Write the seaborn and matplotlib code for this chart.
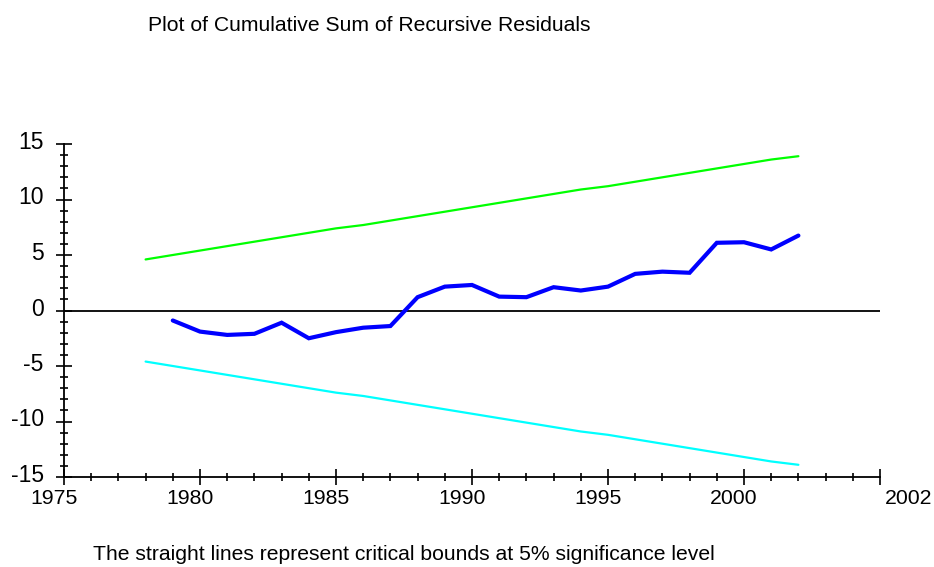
import matplotlib
matplotlib.use("Agg")
import matplotlib.pyplot as plt
import pandas as pd
import seaborn as sns
from matplotlib.ticker import MultipleLocator, FixedLocator, FixedFormatter
from matplotlib.transforms import ScaledTranslation

# Critical bounds (5% significance), one value per year
bound_years = list(range(1978, 2003))
upper_bound = [4.6, 5.0, 5.4, 5.8, 6.2, 6.6, 7.0, 7.4, 7.7, 8.1, 8.5, 8.9, 9.3,
               9.7, 10.1, 10.5, 10.9, 11.2, 11.6, 12.0, 12.4, 12.8, 13.2, 13.6, 13.9]
lower_bound = [-4.6, -5.0, -5.4, -5.8, -6.2, -6.6, -7.0, -7.4, -7.7, -8.1, -8.5, -8.9, -9.3,
               -9.7, -10.1, -10.5, -10.9, -11.2, -11.6, -12.0, -12.4, -12.8, -13.2, -13.6, -13.9]

# Cumulative sum of recursive residuals
cusum_years = list(range(1979, 2003))
cusum = [-0.9, -1.9, -2.2, -2.1, -1.1, -2.5, -1.95, -1.55, -1.4, 1.2, 2.15, 2.3,
         1.25, 1.2, 2.1, 1.8, 2.15, 3.3, 3.5, 3.4, 6.1, 6.15, 5.5, 6.75]

x_tick_values = [1975, 1980, 1985, 1990, 1995, 2000, 2005]
x_tick_labels = ["1975", "1980", "1985", "1990", "1995", "2000", "2002"]
y_tick_values = [-15, -10, -5, 0, 5, 10, 15]
y_tick_labels = ["-15", "-10", "-5", "0", "5", "10", "15"]

title_text = "Plot of Cumulative Sum of Recursive Residuals"
note_text = "The straight lines represent critical bounds at 5% significance level"

sns.set_style("ticks")
plt.rcParams["font.family"] = ["Liberation Sans Narrow", "Liberation Sans", "DejaVu Sans"]
plt.rcParams["text.color"] = "black"

W, H, DPI = 934, 567, 100
fig = plt.figure(figsize=(W / DPI, H / DPI), dpi=DPI)
ax = fig.add_axes([64 / W, 1 - 477 / H, 816 / W, 333 / H])

bounds = pd.DataFrame({"year": bound_years, "upper": upper_bound, "lower": lower_bound})
resid = pd.DataFrame({"year": cusum_years, "cusum": cusum})

ax.axhline(0, color="black", lw=1.3, zorder=1)
sns.lineplot(data=bounds, x="year", y="upper", color="#00ff00", lw=1.6, ax=ax, zorder=2)
sns.lineplot(data=bounds, x="year", y="lower", color="#00ffff", lw=1.6, ax=ax, zorder=2)
sns.lineplot(data=resid, x="year", y="cusum", color="#0000ff", lw=3.0, ax=ax, zorder=3,
             solid_joinstyle="miter")

ax.set_xlim(1975, 2005)
ax.set_ylim(-15, 15)
ax.set_xlabel("")
ax.set_ylabel("")

ax.xaxis.set_major_locator(FixedLocator(x_tick_values))
ax.xaxis.set_major_formatter(FixedFormatter(x_tick_labels))
ax.xaxis.set_minor_locator(MultipleLocator(1))
ax.yaxis.set_major_locator(FixedLocator(y_tick_values))
ax.yaxis.set_major_formatter(FixedFormatter(y_tick_labels))
ax.yaxis.set_minor_locator(MultipleLocator(1))

sns.despine(ax=ax)
for side in ("left", "bottom"):
    ax.spines[side].set_linewidth(1.3)
    ax.spines[side].set_color("black")

ax.tick_params(which="major", direction="inout", length=11, width=1.2, color="black",
               labelcolor="black")
ax.tick_params(which="minor", direction="inout", length=5.5, width=1.2, color="black")
ax.tick_params(axis="y", which="major", pad=9, labelsize=16.5)
ax.tick_params(axis="x", which="major", pad=3, labelsize=15.3)

# Nudge the year labels left of their ticks; the closing label sits right of the axis end
labels = ax.get_xticklabels()
for i, lab in enumerate(labels):
    if i == len(labels) - 1:
        lab.set_horizontalalignment("left")
        lab.set_transform(lab.get_transform() + ScaledTranslation(5 / DPI, 0, fig.dpi_scale_trans))
    else:
        lab.set_transform(lab.get_transform() + ScaledTranslation(-10 / DPI, 0, fig.dpi_scale_trans))
for lab in ax.get_yticklabels():
    lab.set_transform(lab.get_transform() + ScaledTranslation(0, 4 / DPI, fig.dpi_scale_trans))

fig.text(148 / W, 1 - 30.7 / H, title_text, fontsize=15.2, ha="left", va="baseline")
fig.text(93 / W, 1 - 560 / H, note_text, fontsize=15.2, ha="left", va="baseline")

fig.savefig("out.png", dpi=DPI, facecolor="white")
